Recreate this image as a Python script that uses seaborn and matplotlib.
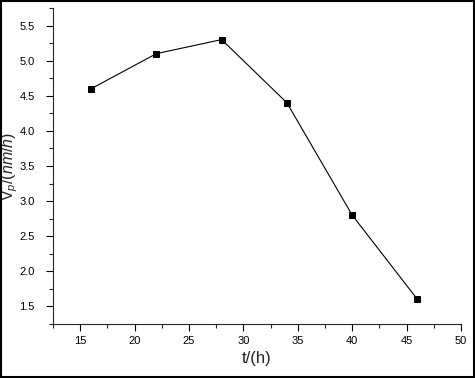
import matplotlib
matplotlib.use("Agg")
import matplotlib.pyplot as plt
import seaborn as sns
import numpy as np
import pandas as pd
from matplotlib.ticker import MultipleLocator, FormatStrFormatter
from matplotlib.patches import Rectangle

# Data
t_hours = [16, 22, 28, 34, 40, 46]
vp_values = [4.6, 5.1, 5.3, 4.4, 2.8, 1.6]

data = pd.DataFrame({"t": t_hours, "vp": vp_values})

sns.set_style("ticks")
plt.rcParams["font.family"] = ["Liberation Sans", "DejaVu Sans"]
plt.rcParams["mathtext.fontset"] = "custom"
plt.rcParams["mathtext.rm"] = "Liberation Sans"
plt.rcParams["mathtext.it"] = "Liberation Sans:italic"

fig = plt.figure(figsize=(4.75, 3.78), dpi=100)
ax = fig.add_axes([0.1116, 0.1429, 0.8589, 0.8359])

sns.lineplot(data=data, x="t", y="vp", color="black", linewidth=0.8,
             marker="s", markersize=5, markeredgecolor="black", ax=ax)

ax.set_xlim(12.5, 50)
ax.set_ylim(1.25, 5.75)
ax.xaxis.set_major_locator(MultipleLocator(5))
ax.xaxis.set_minor_locator(MultipleLocator(2.5))
ax.yaxis.set_major_locator(MultipleLocator(0.5))
ax.yaxis.set_minor_locator(MultipleLocator(0.25))
ax.yaxis.set_major_formatter(FormatStrFormatter("%.1f"))

ax.tick_params(which="major", direction="out", length=5, width=0.8, labelsize=8, colors="black")
ax.tick_params(which="minor", direction="out", length=3, width=0.8)
ax.tick_params(axis="y", which="major", pad=8)

ax.spines["top"].set_visible(False)
ax.spines["right"].set_visible(False)
ax.spines["bottom"].set_linewidth(0.8)
ax.spines["left"].set_linewidth(0.8)

ax.set_xlabel("t/(h)", fontsize=12)
ax.set_ylabel(r"V$_{p}$/$(nm/h)$", fontsize=11.5, va="center", ha="center")
ax.yaxis.set_label_coords(-0.105, 0.5)

# Frame around the whole figure
fig.patches.append(Rectangle((0.002, 0.003), 0.996, 0.994, transform=fig.transFigure,
                             fill=False, edgecolor="black", linewidth=1.5))

fig.savefig("out.png", dpi=100)
